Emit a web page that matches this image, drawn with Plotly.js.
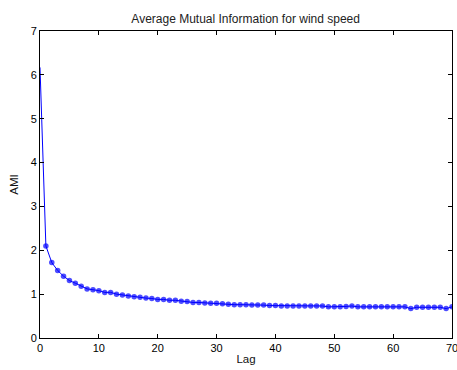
<!DOCTYPE html>
<html>
<head>
<meta charset="utf-8">
<script src="https://cdn.plot.ly/plotly-3.0.1.min.js"></script>
<style>html,body{margin:0;padding:0;background:#fff;}#chart{width:457px;height:370px;}</style>
</head>
<body>
<div id="chart"></div>
<script>
const lags = [];
for (let i = 0; i <= 70; i++) lags.push(i);
const ami = [6.17, 2.10, 1.72, 1.54, 1.41, 1.31, 1.25, 1.18, 1.12, 1.10,
  1.08, 1.04, 1.04, 1.00, 0.98, 0.96, 0.94, 0.93, 0.91, 0.90,
  0.88, 0.88, 0.86, 0.86, 0.84, 0.83, 0.81, 0.81, 0.80, 0.79,
  0.79, 0.78, 0.77, 0.76, 0.76, 0.76, 0.75, 0.75, 0.75, 0.74,
  0.74, 0.73, 0.73, 0.73, 0.73, 0.73, 0.73, 0.73, 0.73, 0.71,
  0.71, 0.71, 0.72, 0.73, 0.71, 0.71, 0.71, 0.71, 0.71, 0.71,
  0.71, 0.71, 0.71, 0.67, 0.70, 0.70, 0.70, 0.70, 0.70, 0.67,
  0.71];
const xTicks = [0, 10, 20, 30, 40, 50, 60, 70];
const yTicks = [0, 1, 2, 3, 4, 5, 6, 7];
const titleText = 'Average Mutual Information for wind speed';
const xLabel = 'Lag';
const yLabel = 'AMI';

const font = {family: 'Liberation Sans, Arial, sans-serif', size: 11, color: '#000'};
const labelFont = {family: font.family, size: 11.5, color: '#111'};
const trace = {
  x: lags, y: ami, type: 'scatter', mode: 'lines+markers',
  line: {color: '#0000ff', width: 1},
  marker: {color: '#0000ff', size: lags.map(l => l === 0 ? 0 : 5.5), line: {width: 0}},
  cliponaxis: true
};
const axisCommon = {
  showline: true, linecolor: '#000', linewidth: 1, mirror: 'ticks',
  ticks: 'inside', ticklen: 4, tickcolor: '#000', tickwidth: 1,
  showgrid: false, zeroline: false, tickfont: font, fixedrange: true,
  ticklabeloverflow: 'allow'
};
const layout = {
  width: 457, height: 370,
  margin: {l: 40, r: 5, t: 31, b: 32},
  paper_bgcolor: '#fff', plot_bgcolor: '#fff',
  showlegend: false,
  font: font,
  title: {text: titleText, font: {family: font.family, size: 12, color: '#222'},
    x: 0.5375, xanchor: 'center', y: 1 - 19/370, yanchor: 'middle', yref: 'container'},
  xaxis: Object.assign({}, axisCommon, {range: [0, 70], tickvals: xTicks,
    ticktext: xTicks.map(String), title: {text: xLabel, font: labelFont, standoff: 1}}),
  yaxis: Object.assign({}, axisCommon, {range: [0, 7], tickvals: yTicks,
    ticktext: yTicks.map(String), title: {text: yLabel, font: labelFont, standoff: 9}})
};
Plotly.newPlot('chart', [trace], layout, {displayModeBar: false, staticPlot: true});
</script>
</body>
</html>
